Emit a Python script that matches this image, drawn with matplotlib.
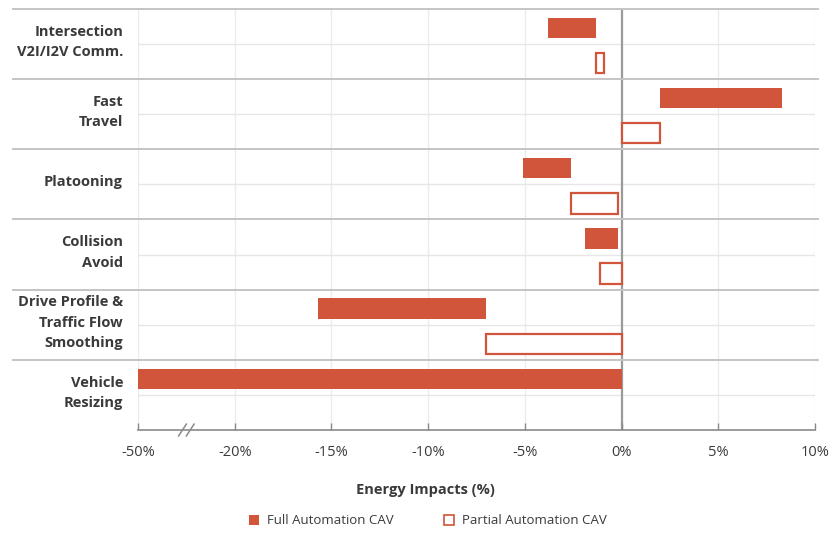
import matplotlib

matplotlib.use("Agg")

import matplotlib.pyplot as plt
import numpy as np
from matplotlib.patches import Patch
from matplotlib.ticker import FixedLocator, FuncFormatter

plt.rcParams["font.family"] = ["Open Sans", "DejaVu Sans"]

categories = [
    "Intersection\nV2I/I2V Comm.",
    "Fast\nTravel",
    "Platooning",
    "Collision\nAvoid",
    "Drive Profile &\nTraffic Flow\nSmoothing",
    "Vehicle\nResizing",
]
full_low = [-3.8, 2.0, -5.1, -1.9, -15.7, -50.0]
full_high = [-1.3, 8.3, -2.6, -0.2, -7.0, 0.0]
partial_low = [-1.3, 0.0, -2.6, -1.1, -7.0, np.nan]
partial_high = [-0.9, 2.0, -0.2, 0.0, 0.0, np.nan]
tick_values = [-50, -20, -15, -10, -5, 0, 5, 10]

BAR_COLOR = "#d0553b"
TEXT_COLOR = "#3a3a3a"


def forward(x):
    x = np.asarray(x, dtype=float)
    return np.where(x < -20, -20 + (x + 20) / 6.0, x)


def inverse(y):
    y = np.asarray(y, dtype=float)
    return np.where(y < -20, -20 + (y + 20) * 6.0, y)


fig = plt.figure(figsize=(8.38, 5.34), dpi=100)
ax = fig.add_axes([138 / 838, 1 - 430 / 534, (815 - 138) / 838, (430 - 9) / 534])
ax.set_xscale("function", functions=(forward, inverse))
ax.set_xlim(-50, 10)
ax.set_ylim(len(categories), 0)

# grid
for v in tick_values:
    if v == 0:
        ax.axvline(v, color="#9a9a9a", lw=1.6, zorder=1)
    else:
        ax.axvline(v, color="#ececec", lw=1.0, zorder=0)

for i in range(len(categories)):
    ax.axhline(i, xmin=-0.185, xmax=1.005, color="#c4c4c4", lw=1.4, clip_on=False, zorder=1)
    ax.axhline(i + 0.5, color="#e6e6e6", lw=1.0, zorder=0)

full_y = np.arange(len(categories)) + 0.27
partial_y = np.arange(len(categories)) + 0.77
bar_h = 0.29

ax.barh(full_y, np.array(full_high) - np.array(full_low), left=full_low,
        height=bar_h, color=BAR_COLOR, edgecolor="none", zorder=3)
pl = np.array(partial_low)
ph = np.array(partial_high)
mask = ~np.isnan(pl)
ax.barh(partial_y[mask], ph[mask] - pl[mask], left=pl[mask], height=bar_h,
        facecolor="white", edgecolor=BAR_COLOR, linewidth=1.6, zorder=3)

for i, name in enumerate(categories):
    ax.text(-0.022, (i + 0.47), name, transform=ax.get_yaxis_transform(),
            ha="right", va="center", fontsize=10.5, fontweight="bold",
            color=TEXT_COLOR, linespacing=1.6)

ax.set_yticks([])
for side in ["top", "left", "right"]:
    ax.spines[side].set_visible(False)
ax.spines["bottom"].set_color("#8a8a8a")
ax.spines["bottom"].set_linewidth(1.2)

ax.xaxis.set_major_locator(FixedLocator(tick_values))
ax.xaxis.set_major_formatter(FuncFormatter(lambda v, _: f"{v:.0f}%"))
ax.xaxis.set_minor_locator(FixedLocator([]))
ax.tick_params(axis="x", direction="in", length=5, width=1.0, color="#8a8a8a",
               labelsize=10.5, labelcolor=TEXT_COLOR, pad=11)

# axis break marks
trans = ax.get_xaxis_transform()
for dx in (-1.2, 1.2):
    xc = -35 + dx
    ax.plot([xc - 1.2, xc + 1.2], [-0.014, 0.014], transform=trans,
            color="#8a8a8a", lw=1.1, clip_on=False, zorder=5)

fig.text(425 / 838, 1 - 490 / 534, "Energy Impacts (%)", ha="center", va="center",
         fontsize=10.5, fontweight="bold", color=TEXT_COLOR)

handles = [
    Patch(facecolor=BAR_COLOR, edgecolor="none", label="Full Automation CAV"),
    Patch(facecolor="white", edgecolor=BAR_COLOR, linewidth=1.2, label="Partial Automation CAV"),
]
fig.legend(handles=handles, loc="center", bbox_to_anchor=(428 / 838, 1 - 521 / 534),
           ncol=2, frameon=False, fontsize=9.5, handlelength=0.75, handleheight=0.75,
           columnspacing=3.8, handletextpad=0.6, labelcolor=TEXT_COLOR)

fig.savefig("out.png", dpi=100)
plt.close(fig)
